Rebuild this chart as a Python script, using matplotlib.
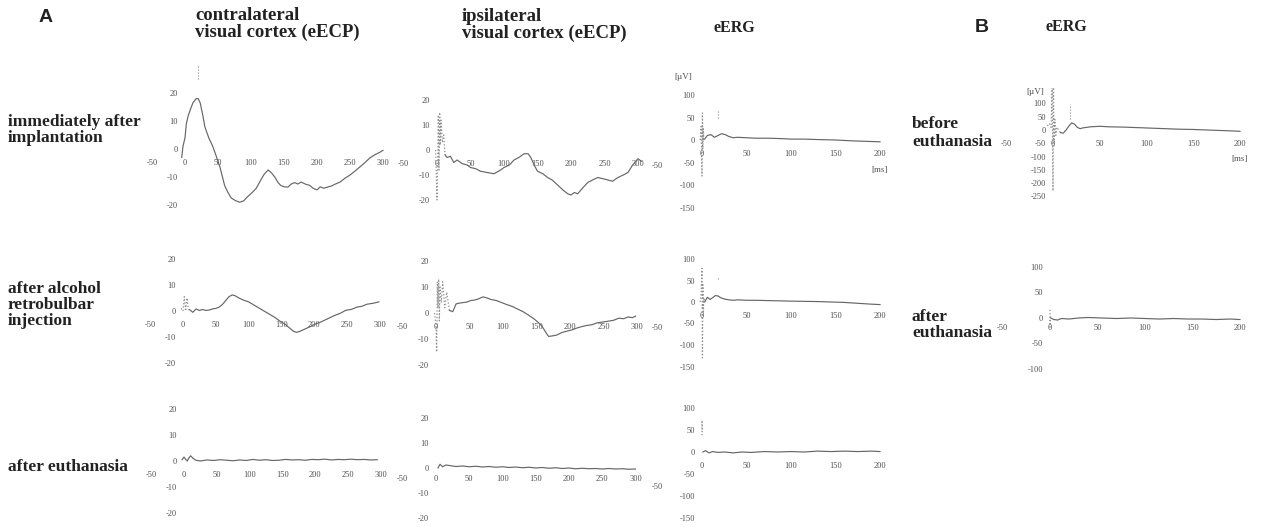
import matplotlib
matplotlib.use('Agg')
import matplotlib.pyplot as plt

plt.rcParams['font.family'] = ['Liberation Serif', 'DejaVu Serif']

# ---------------- data (time in ms, amplitude in µV) ----------------
# A, row 1: immediately after implantation
t11 = [-5, -3, 0, 2, 5, 8, 12, 17, 20, 23, 27, 30, 36, 42, 48, 53, 60, 65, 70, 77,
       83, 89, 95, 102, 108, 115, 120, 126, 131, 136, 141, 145, 150, 156, 161, 166, 171, 176, 182, 189,
       194, 200, 205, 210, 216, 222, 228, 235, 242, 250, 257, 265, 272, 280, 288, 295, 300]
v11 = [-3, 1, 4, 9, 12, 14, 16.5, 18, 18, 16.5, 12, 8, 4, 1, -3, -6.5, -13, -15.5, -17.5, -18.5,
       -19, -18.5, -17, -15.5, -14, -11, -9, -7.5, -8.5, -10, -12, -13, -13.5, -13.6, -12.5, -12, -12.5, -11.8, -12.5, -13,
       -14, -14.6, -13.5, -14, -13.6, -13.2, -12.5, -11.8, -10.5, -9.3, -8, -6.4, -5, -3.2, -2, -1.2, -0.5]

t12_art = [-2, 0, 1, 2, 3, 4, 5, 6, 8, 10, 12]
v12_art = [0, -20, -5, 14, -8, 15, 2, 12, 3, 6, -2]
t12 = [12, 15, 20, 25, 30, 38, 45, 50, 58, 65, 75, 85, 95, 100, 108, 115, 122, 130, 136, 140,
       145, 150, 158, 165, 172, 180, 188, 195, 200, 205, 210, 218, 225, 232, 240, 248, 255, 262, 270, 278,
       285, 292, 300, 305]
v12 = [-2, -3, -2.5, -5, -4, -5.5, -6, -7, -7.5, -8.5, -9, -9.5, -8, -7, -6, -4, -3, -1.5, -1.5, -3,
       -6, -8.5, -9.5, -11, -12, -14, -16, -17.5, -18, -17, -17.5, -15, -13, -12, -11, -11.5, -12, -12.5, -11, -10,
       -9, -6, -3.5, -4.5]

t13_art = [-2, -1, 0, 0.5, 1, 1.5, 2, 3]
v13_art = [0, 30, -80, 60, -20, 25, 0, 2]
t13 = [3, 6, 10, 14, 18, 22, 26, 30, 35, 40, 50, 60, 75, 90, 100, 115, 130, 150, 170, 185, 200]
v13 = [2, 10, 12, 6, 10, 14, 12, 8, 5, 6, 5, 4, 4, 3, 2, 2, 1, 0, -2, -3, -4]

# A, row 2: after alcohol retrobulbar injection
t21_art = [-3, 0, 2, 4, 6, 8, 10]
v21_art = [1, 0, 5.5, 0, 5, 1, 0]
t21 = [10, 15, 20, 25, 30, 35, 40, 45, 50, 55, 60, 65, 70, 75, 80, 85, 92, 100, 110, 120,
       130, 140, 148, 155, 162, 168, 173, 178, 185, 192, 200, 210, 220, 230, 240, 248, 256, 265, 272, 280,
       290, 298]
v21 = [0.5, -0.5, 0.8, 0.2, 0.6, 0.2, 0.4, 0.8, 1.0, 1.5, 2.5, 4.0, 5.5, 6.2, 5.8, 5.0, 4.2, 3.5, 2.0, 0.5,
       -1.0, -2.5, -4.0, -5.0, -6.5, -7.8, -8.2, -7.8, -7.0, -6.2, -5.2, -4.2, -3.0, -1.8, -0.8, 0.3, 0.6, 1.5, 1.8, 2.6,
       3.0, 3.5]

t22_art = [-2, 0, 1, 2, 3, 4, 5, 6, 8, 10, 13, 16, 20]
v22_art = [0, -5, -15, 12, 2, 13, -3, 10, 4, 12, 2, 8, 1]
t22 = [20, 25, 30, 35, 40, 46, 52, 58, 64, 70, 76, 82, 90, 98, 106, 114, 122, 130, 138, 146,
       152, 158, 164, 168, 174, 180, 188, 195, 203, 210, 218, 225, 233, 240, 248, 256, 265, 273, 280, 287,
       293, 298]
v22 = [1, 0.5, 3.5, 3.8, 4.0, 4.2, 4.8, 5.0, 5.5, 6.2, 5.8, 5.2, 4.8, 4.0, 3.2, 2.5, 1.5, 0.5, -0.8, -2.2,
       -3.5, -5.0, -7.5, -9.0, -8.8, -8.5, -7.5, -7.0, -6.5, -5.8, -5.2, -4.8, -4.5, -3.8, -3.5, -3.2, -2.8, -2.0, -2.2, -1.5,
       -1.8, -1.2]

t23_art = [-2, -1, 0, 0.5, 1, 1.5, 2, 3]
v23_art = [0, 20, 78, -130, 40, -30, 10, 0]
t23 = [3, 6, 9, 12, 15, 18, 21, 25, 30, 35, 40, 50, 60, 70, 80, 90, 100, 115, 130, 145, 160, 175, 190, 200]
v23 = [0, 11, 6, 10, 15, 14, 10, 7, 5, 4, 5, 4, 4, 3.5, 3, 2.5, 2, 1.5, 1, 0, -1, -3, -5, -6]

# A, row 3: after euthanasia
t31 = [-3, 0, 3, 5, 7, 10, 14, 18, 25, 35, 45, 55, 65, 75, 85, 95, 105, 115, 125, 135,
       145, 155, 165, 175, 185, 195, 205, 215, 225, 235, 245, 255, 265, 275, 285, 295]
v31 = [0.5, 1.5, 0.5, 0, 1.0, 2.0, 1.0, 0.3, 0.0, 0.4, 0.2, 0.5, 0.3, 0.1, 0.4, 0.2, 0.6, 0.3, 0.5, 0.2,
       0.3, 0.6, 0.4, 0.5, 0.3, 0.6, 0.5, 0.7, 0.4, 0.6, 0.5, 0.7, 0.5, 0.6, 0.4, 0.5]

t32 = [3, 6, 10, 15, 20, 30, 40, 50, 60, 70, 80, 90, 100, 110, 120, 130, 140, 150, 160, 170,
       180, 190, 200, 210, 220, 230, 240, 250, 260, 270, 280, 290, 300]
v32 = [0, 1.5, 0.5, 1.2, 1.0, 0.6, 0.8, 0.5, 0.7, 0.4, 0.6, 0.3, 0.5, 0.2, 0.4, 0.1, 0.3, 0.0, 0.2, -0.1,
       0.1, -0.2, 0.0, -0.3, -0.1, -0.3, -0.2, -0.4, -0.2, -0.4, -0.3, -0.5, -0.4]

t33_art = [0, 0, 0.5]
v33_art = [38, 72, 45]
t33 = [1, 4, 8, 12, 18, 25, 35, 45, 55, 70, 85, 100, 115, 130, 145, 160, 175, 190, 200]
v33 = [0, 3, -2, 1, -1, 0, -2, 0, -1, 1, 0, 1, 0, 2, 1, 2, 1, 2, 1]

# B: eERG before / after euthanasia
tb1_art = [-6, -4, -2, -1, 0, 0.5, 1, 2, 3, 4, 6, 8]
vb1_art = [15, 25, 10, 160, -230, 160, -60, 40, -20, 10, 0, -10]
tb1 = [8, 11, 14, 17, 20, 23, 26, 29, 32, 36, 40, 50, 60, 75, 90, 105, 120, 135, 150, 165, 180, 195, 200]
vb1 = [-10, -12, 0, 15, 27, 22, 10, 5, 8, 10, 12, 14, 12, 11, 9, 7, 5, 3, 2, 0, -2, -4, -5]

tb2_art = [0, 0, 0.5]
vb2_art = [16, -18, 5]
tb2 = [1, 4, 8, 12, 20, 30, 40, 55, 70, 85, 100, 115, 130, 145, 160, 175, 190, 200]
vb2 = [0, -3, -4, -1, -2, 0, 1, 0, -1, 0, -1, -2, -1, -2, -2, -3, -2, -3]

vep_xticks = [-50, 0, 50, 100, 150, 200, 250, 300]
vep_yticks = [-20, -10, 0, 10, 20]
erg_xticks = [0, 50, 100, 150, 200]
erg_yticks = [-150, -100, -50, 0, 50, 100]
ergB1_xticks = [-50, 0, 50, 100, 150, 200]
ergB1_yticks = [-250, -200, -150, -100, -50, 0, 50, 100]
ergB2_yticks = [-100, -50, 0, 50, 100]

# ---------------- layout ----------------
W, H = 1267, 527
fig = plt.figure(figsize=(W / 100, H / 100), dpi=100)
TRACE = '#666666'
ART = '#8f8f8f'
TICK = '#505050'
PX = 0.72  # points per pixel at 100 dpi


def panel(x0, sx, y0, sy, xlim, ylim, xticks, yticks, xpad=7, ypad=5):
    left = (x0 + xlim[0] * sx) / W
    width = (xlim[1] - xlim[0]) * sx / W
    bottom = 1 - (y0 - ylim[0] * sy) / H
    height = (ylim[1] - ylim[0]) * sy / H
    ax = fig.add_axes([left, bottom, width, height])
    ax.patch.set_alpha(0)
    ax.set_xlim(xlim)
    ax.set_ylim(ylim)
    for s in ['top', 'right']:
        ax.spines[s].set_visible(False)
    ax.spines['left'].set_position(('data', 0))
    ax.spines['bottom'].set_position(('data', 0))
    ax.spines['left'].set_color('none')
    ax.spines['bottom'].set_color('none')
    ax.set_xticks(xticks, [str(v) for v in xticks])
    ax.set_yticks(yticks, [str(v) for v in yticks])
    ax.tick_params(axis='x', length=0, labelsize=6, colors=TICK, pad=xpad)
    ax.tick_params(axis='y', length=0, labelsize=6, colors=TICK, pad=ypad)
    return ax


def trace(ax, t, v, art_t=None, art_v=None):
    if art_t is not None:
        ax.plot(art_t, art_v, ls=':', color=ART, lw=0.9)
    ax.plot(t, v, color=TRACE, lw=0.85)


def note(ax, s, xy, dx_px, dy_px, size=6):
    # dy_px > 0 moves the text downwards
    ax.annotate(s, xy, xytext=(dx_px * PX, -dy_px * PX), textcoords='offset points',
                ha='center', va='center', fontsize=size, color=TICK)


# Row 1
a = panel(185, 0.66, 149, 2.8, (-55, 340), (-25, 31), vep_xticks, vep_yticks)
trace(a, t11, v11)
a.plot([20, 20], [25, 30], ls=':', color=ART, lw=0.8)

a = panel(437, 0.67, 150, 2.5, (-55, 340), (-25, 30), vep_xticks, vep_yticks)
trace(a, t12, v12, t12_art, v12_art)

a = panel(702, 0.89, 140, 0.45, (-55, 210), (-170, 150), erg_xticks, erg_yticks)
trace(a, t13, v13, t13_art, v13_art)
a.plot([18, 18], [50, 65], ls=':', color=ART, lw=0.8)
note(a, '-50', (-50, 0), 0, 26)
note(a, '[µV]', (0, 100), -19, -18, 6.5)
note(a, '[ms]', (200, 0), 0, 30, 6.5)

# Row 2
a = panel(183, 0.657, 311, 2.6, (-55, 340), (-25, 25), vep_xticks, vep_yticks)
trace(a, t21, v21, t21_art, v21_art)

a = panel(436, 0.67, 313, 2.6, (-55, 340), (-25, 25), vep_xticks, vep_yticks)
trace(a, t22, v22, t22_art, v22_art)

a = panel(702, 0.89, 302, 0.43, (-55, 210), (-170, 120), erg_xticks, erg_yticks)
trace(a, t23, v23, t23_art, v23_art)
a.plot([18, 18], [54, 60], ls=':', color=ART, lw=0.8)
note(a, '-50', (-50, 0), 0, 26)

# Row 3
a = panel(184, 0.655, 461, 2.6, (-55, 340), (-25, 25), vep_xticks, vep_yticks)
trace(a, t31, v31)

a = panel(436, 0.665, 468, 2.5, (-55, 340), (-25, 25), vep_xticks, vep_yticks, xpad=5)
trace(a, t32, v32)

a = panel(702, 0.89, 452, 0.44, (-55, 210), (-170, 120), erg_xticks, erg_yticks)
trace(a, t33, v33, t33_art, v33_art)
note(a, '-50', (-50, 0), 0, 35)

# B
a = panel(1053, 0.935, 130, 0.265, (-55, 210), (-270, 160), ergB1_xticks, ergB1_yticks)
trace(a, tb1, vb1, tb1_art, vb1_art)
a.plot([18, 18], [40, 100], ls=':', color=ART, lw=0.8)
note(a, '[µV]', (0, 100), -18, -11, 6.5)
note(a, '[ms]', (200, 0), 0, 29, 6.5)

a = panel(1050, 0.95, 318, 0.51, (-55, 210), (-120, 120), ergB1_xticks, ergB2_yticks, xpad=4.5)
trace(a, tb2, vb2, tb2_art, vb2_art)

# ---------------- texts ----------------
def ftext(x, y, s, **kw):
    fig.text(x / W, 1 - y / H, s, **kw)

LAB = dict(fontsize=12.5, fontweight='bold', color='#222', va='center', ha='left', linespacing=1.0)
ftext(8, 130.5, 'immediately after\nimplantation', **LAB)
ftext(8, 305, 'after alcohol\nretrobulbar\ninjection', **LAB)
ftext(8, 467, 'after euthanasia', **LAB)
ftext(912, 133, 'before\neuthanasia', **dict(LAB, linespacing=1.15))
ftext(912, 325, 'after\neuthanasia', **LAB)

TIT = dict(fontsize=13.5, fontweight='bold', color='#222', va='center', ha='left', linespacing=1.0)
ftext(195, 24, 'contralateral\nvisual cortex (eECP)', **TIT)
ftext(462, 25, 'ipsilateral\nvisual cortex (eECP)', **TIT)
ftext(713, 28, 'eERG', **dict(TIT, fontsize=11.5))
ftext(1046, 27, 'eERG', **dict(TIT, fontsize=11.5))

ftext(46, 18, 'A', fontsize=14, fontweight='bold', color='#222', va='center', ha='center', family='Liberation Sans')
ftext(982, 27, 'B', fontsize=14, fontweight='bold', color='#222', va='center', ha='center', family='Liberation Sans')

fig.savefig('out.png', dpi=100)
